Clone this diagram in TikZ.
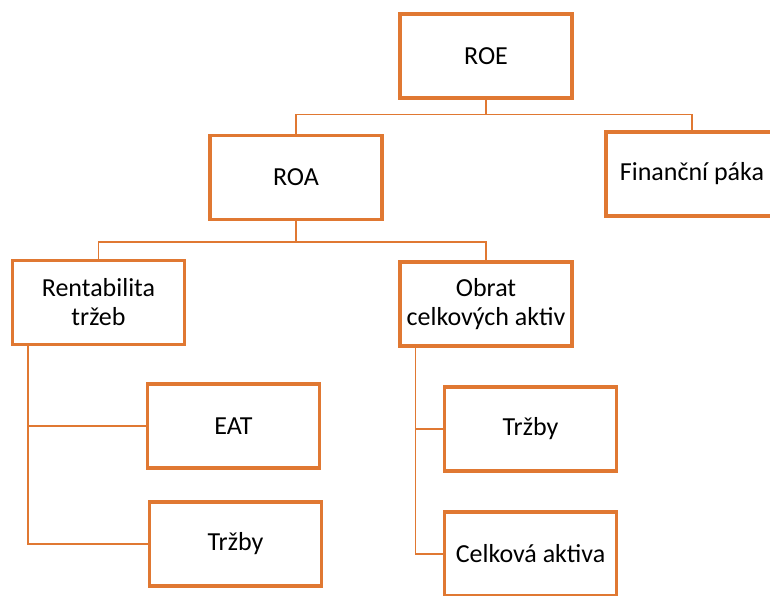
\documentclass[tikz,border=0pt]{standalone}
\usepackage{fontspec}
\setmainfont{Carlito}
\begin{document}
\begin{tikzpicture}[x=1pt, y=-1pt]
\definecolor{boxcolor}{RGB}{224,120,50}
\tikzset{box/.style={draw=boxcolor, line width=3.3pt, minimum width=172pt, minimum height=84pt, align=center, inner sep=0pt, font=\fontsize{26}{29}\selectfont},
link/.style={draw=boxcolor, line width=1.4pt}}
\useasboundingbox (0,0) rectangle (770,596);
\clip (0,0) rectangle (770,596);
\foreach \name/\x/\y/\txt in {roe/486/56/ROE, roa/296/177.5/ROA, fin/692/174/Finanční páka, rent/98.5/302.5/Rentabilita\\tržeb, obrat/486/304/Obrat\\celkových aktiv, eat/233.5/426/EAT, trzbyA/235.5/544/Tržby, trzbyB/530.5/429/Tržby, celk/530.5/554/Celková aktiva} \node[box] (\name) at (\x,\y) {\txt};
\coordinate (roejoin) at ([yshift=-15pt]roe.south);
\coordinate (roajoin) at ([yshift=-21pt]roa.south);
\draw[link] (roe.south) -- (roejoin) -| (roa.north);
\draw[link] (roejoin) -| (fin.north);
\draw[link] (roa.south) -- (roajoin) -| (rent.north);
\draw[link] (roajoin) -| (obrat.north);
\draw[link] ([xshift=17pt]rent.south west) |- (eat.west);
\draw[link] ([xshift=17pt]rent.south west) |- (trzbyA.west);
\draw[link] ([xshift=17pt]obrat.south west) |- (trzbyB.west);
\draw[link] ([xshift=17pt]obrat.south west) |- (celk.west);
\end{tikzpicture}
\end{document}
